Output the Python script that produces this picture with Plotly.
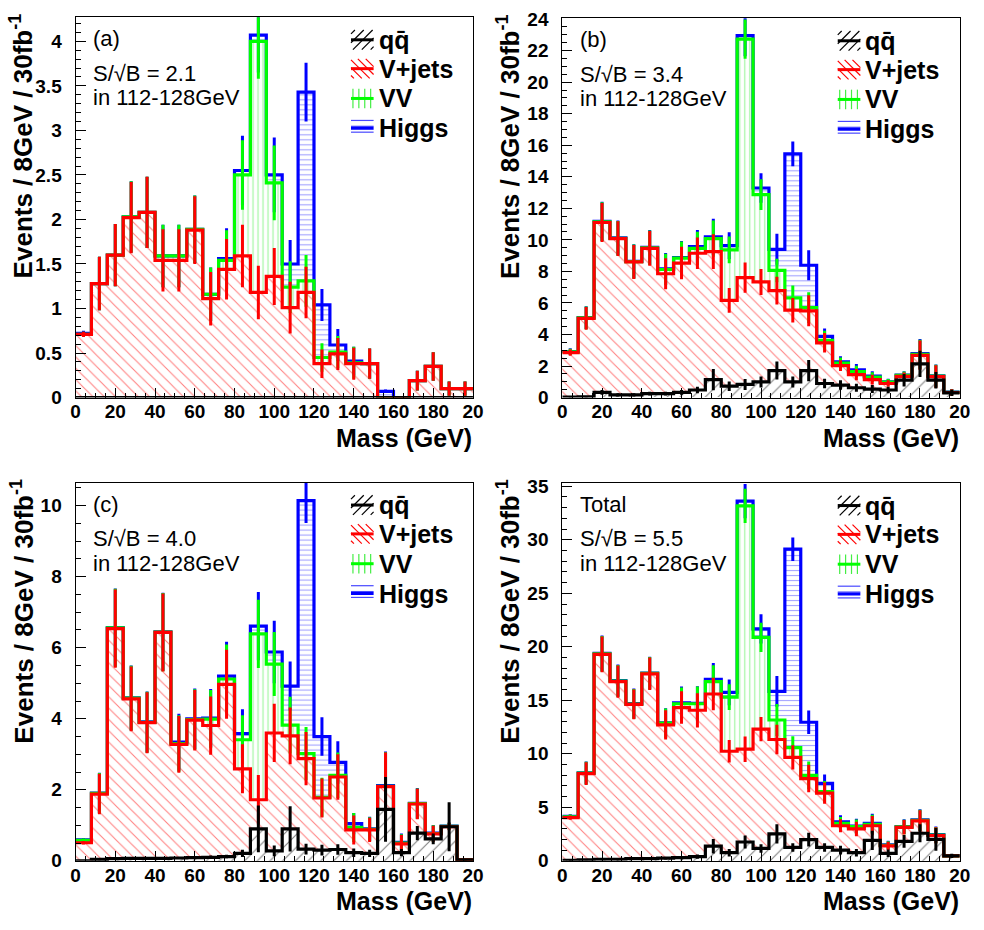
import plotly.graph_objects as go

W, H = 984, 930

# 8 GeV bins from 0 to 200 GeV
bin_edges = list(range(0, 201, 8))
bin_centers = [e + 4 for e in bin_edges[:-1]]
x_tick_vals = [0, 20, 40, 60, 80, 100, 120, 140, 160, 180, 200]
x_tick_text = ["0", "20", "40", "60", "80", "100", "120", "140", "160", "180", "20"]

# ---------------- panel (a) ----------------
qq_a = [0.00, 0.00, 0.00, 0.00, 0.00, 0.00, 0.00, 0.00, 0.00, 0.00, 0.00, 0.00, 0.00,
        0.00, 0.00, 0.00, 0.00, 0.00, 0.00, 0.00, 0.00, 0.00, 0.00, 0.00, 0.00]
vjets_a = [0.71, 1.28, 1.60, 2.02, 2.08, 1.54, 1.54, 1.88, 1.11, 1.44, 1.59, 1.18, 1.36,
           1.01, 1.18, 0.38, 0.49, 0.38, 0.38, 0.00, 0.00, 0.19, 0.35, 0.10, 0.10]
vv_a = [0.00, 0.00, 0.00, 0.01, 0.00, 0.05, 0.05, 0.01, 0.05, 0.10, 0.91, 2.82, 1.05,
        0.23, 0.13, 0.07, 0.02, 0.01, 0.00, 0.00, 0.00, 0.00, 0.00, 0.00, 0.00]
higgs_a = [0.01, 0.00, 0.00, 0.00, 0.00, 0.00, 0.00, 0.00, 0.00, 0.02, 0.05, 0.07, 0.09,
           0.26, 2.12, 0.59, 0.08, 0.02, 0.00, 0.07, 0.00, 0.00, 0.00, 0.00, 0.00]
err_qq_a = [0.00, 0.00, 0.00, 0.00, 0.00, 0.00, 0.00, 0.00, 0.00, 0.00, 0.00, 0.00, 0.00,
            0.00, 0.00, 0.00, 0.00, 0.00, 0.00, 0.00, 0.00, 0.00, 0.00, 0.00, 0.00]
err_vjets_a = [0.03, 0.30, 0.35, 0.40, 0.40, 0.35, 0.35, 0.38, 0.30, 0.34, 0.35, 0.30, 0.32,
               0.29, 0.29, 0.16, 0.18, 0.18, 0.17, 0.00, 0.00, 0.11, 0.16, 0.08, 0.08]
err_vv_a = [0.03, 0.30, 0.35, 0.40, 0.40, 0.35, 0.35, 0.38, 0.30, 0.34, 0.39, 0.42, 0.42,
            0.29, 0.29, 0.16, 0.18, 0.18, 0.17, 0.00, 0.00, 0.11, 0.16, 0.08, 0.08]
err_higgs_a = [0.03, 0.30, 0.35, 0.40, 0.40, 0.35, 0.35, 0.38, 0.30, 0.34, 0.39, 0.42, 0.42,
               0.27, 0.33, 0.18, 0.18, 0.16, 0.17, 0.02, 0.00, 0.11, 0.16, 0.08, 0.08]

# ---------------- panel (b) ----------------
qq_b = [0.03, 0.05, 0.33, 0.17, 0.17, 0.25, 0.25, 0.33, 0.48, 1.14, 0.72, 0.83, 0.99,
        1.71, 0.99, 1.71, 0.89, 0.79, 0.62, 0.54, 0.48, 1.10, 2.13, 1.10, 0.30]
vjets_b = [2.82, 4.97, 10.77, 9.91, 8.43, 9.21, 7.60, 8.20, 8.67, 8.12, 5.44, 6.77, 6.34,
           5.07, 4.55, 3.79, 2.58, 1.23, 0.83, 0.60, 0.41, 0.24, 0.55, 0.23, 0.02]
vv_b = [0.05, 0.03, 0.05, 0.02, 0.02, 0.04, 0.27, 0.31, 0.31, 0.82, 3.20, 15.13, 5.54,
        1.28, 0.78, 0.20, 0.15, 0.17, 0.20, 0.16, 0.09, 0.06, 0.06, 0.03, 0.01]
higgs_b = [0.02, 0.02, 0.02, 0.02, 0.02, 0.02, 0.04, 0.04, 0.11, 0.11, 0.27, 0.22, 0.42,
           1.34, 9.13, 2.69, 0.26, 0.08, 0.11, 0.06, 0.02, 0.02, 0.04, 0.02, 0.01]
err_qq_b = [0.03, 0.05, 0.15, 0.10, 0.10, 0.12, 0.12, 0.15, 0.20, 0.67, 0.30, 0.35, 0.35,
            0.57, 0.35, 0.67, 0.30, 0.30, 0.25, 0.25, 0.20, 0.40, 0.83, 0.52, 0.20]
err_vjets_b = [0.20, 0.72, 1.24, 1.10, 1.08, 1.10, 0.98, 1.03, 1.00, 1.10, 0.78, 0.96, 0.83,
               0.88, 0.78, 0.98, 0.62, 0.34, 0.36, 0.31, 0.20, 0.25, 0.93, 0.72, 0.20]
err_vv_b = [0.20, 0.72, 1.24, 1.10, 1.08, 1.10, 1.00, 1.05, 1.05, 1.15, 0.85, 1.24, 0.98,
            0.75, 0.78, 0.98, 0.62, 0.35, 0.36, 0.31, 0.20, 0.25, 0.93, 0.72, 0.20]
err_higgs_b = [0.20, 0.72, 1.24, 1.10, 1.08, 1.10, 1.00, 1.05, 1.05, 1.15, 0.85, 1.30, 0.93,
               0.98, 0.78, 0.95, 0.50, 0.35, 0.36, 0.31, 0.20, 0.25, 0.93, 0.72, 0.20]

# ---------------- panel (c) ----------------
qq_c = [0.00, 0.04, 0.06, 0.07, 0.07, 0.07, 0.08, 0.09, 0.10, 0.12, 0.21, 0.90, 0.28,
        0.90, 0.33, 0.30, 0.32, 0.23, 0.21, 1.45, 0.23, 0.78, 0.62, 0.96, 0.03]
vjets_c = [0.51, 1.84, 6.48, 4.49, 3.82, 6.36, 3.20, 3.87, 3.71, 4.85, 2.38, 0.82, 3.32,
           2.62, 2.55, 1.47, 2.04, 0.64, 0.66, 0.64, 0.25, 0.82, 0.14, 0.00, 0.00]
vv_c = [0.07, 0.02, 0.02, 0.02, 0.01, 0.01, 0.02, 0.02, 0.18, 0.15, 0.82, 4.67, 1.94,
        0.30, 0.14, 0.02, 0.05, 0.07, 0.02, 0.01, 0.02, 0.01, 0.01, 0.01, 0.00]
higgs_c = [0.01, 0.01, 0.01, 0.01, 0.01, 0.01, 0.04, 0.02, 0.03, 0.08, 0.17, 0.22, 0.34,
           1.10, 7.12, 1.71, 0.36, 0.11, 0.01, 0.02, 0.02, 0.01, 0.01, 0.01, 0.00]
err_qq_c = [0.00, 0.02, 0.03, 0.03, 0.03, 0.03, 0.03, 0.04, 0.05, 0.05, 0.10, 0.66, 0.15,
            0.64, 0.15, 0.15, 0.15, 0.12, 0.10, 0.91, 0.10, 0.20, 0.15, 0.69, 0.02]
err_vjets_c = [0.05, 0.57, 1.10, 0.91, 0.86, 1.10, 0.80, 0.85, 0.82, 0.97, 0.69, 0.70, 0.82,
               0.80, 0.75, 0.55, 0.64, 0.41, 0.34, 0.96, 0.25, 0.43, 0.23, 0.10, 0.00]
err_vv_c = [0.05, 0.57, 1.10, 0.91, 0.86, 1.10, 0.80, 0.85, 0.82, 0.97, 0.69, 0.96, 0.90,
            0.80, 0.75, 0.55, 0.64, 0.41, 0.34, 0.96, 0.25, 0.43, 0.23, 0.10, 0.00]
err_higgs_c = [0.05, 0.57, 1.10, 0.91, 0.86, 1.10, 0.80, 0.85, 0.82, 0.97, 0.69, 0.96, 0.88,
               0.69, 0.63, 0.54, 0.60, 0.30, 0.34, 0.96, 0.25, 0.43, 0.23, 0.10, 0.00]

# ---------------- total ----------------
qq_d = [0.05, 0.10, 0.15, 0.15, 0.20, 0.20, 0.25, 0.30, 0.40, 1.37, 0.76, 1.76, 1.16,
        2.52, 1.25, 1.98, 1.25, 1.00, 0.76, 1.91, 0.70, 1.82, 2.58, 2.00, 0.46]
vjets_d = [3.99, 8.05, 19.15, 16.60, 14.42, 17.28, 12.45, 14.02, 13.67, 14.22, 9.48, 8.67, 11.15,
           8.82, 8.42, 5.71, 5.07, 2.28, 2.22, 1.37, 0.70, 1.31, 1.16, 0.37, 0.00]
vv_d = [0.08, 0.05, 0.05, 0.05, 0.03, 0.04, 0.16, 0.36, 0.61, 1.16, 5.05, 22.73, 8.57,
        1.82, 0.91, 0.30, 0.15, 0.22, 0.21, 0.12, 0.05, 0.04, 0.04, 0.03, 0.01]
higgs_d = [0.03, 0.02, 0.03, 0.05, 0.05, 0.03, 0.04, 0.09, 0.04, 0.21, 0.45, 0.46, 0.79,
           2.68, 18.54, 4.96, 0.76, 0.15, 0.06, 0.10, 0.05, 0.03, 0.04, 0.05, 0.01]
err_qq_d = [0.03, 0.05, 0.10, 0.10, 0.10, 0.10, 0.12, 0.15, 0.20, 0.68, 0.35, 0.60, 0.40,
            0.90, 0.40, 0.64, 0.40, 0.40, 0.35, 0.90, 0.35, 0.60, 0.84, 1.06, 0.20]
err_vjets_d = [0.20, 1.06, 1.67, 1.50, 1.40, 1.52, 1.37, 1.52, 1.60, 1.52, 1.06, 1.20, 1.14,
               1.37, 1.14, 1.29, 0.99, 0.60, 0.68, 0.90, 0.38, 0.68, 0.99, 0.76, 0.10]
err_vv_d = [0.20, 1.06, 1.67, 1.50, 1.40, 1.52, 1.37, 1.52, 1.60, 1.52, 1.20, 1.60, 1.37,
            1.50, 1.06, 1.29, 0.99, 0.60, 0.68, 0.90, 0.38, 0.68, 0.99, 0.76, 0.10]
err_higgs_d = [0.20, 1.06, 1.67, 1.50, 1.40, 1.52, 1.37, 1.52, 1.60, 1.52, 1.20, 1.60, 1.37,
               1.44, 1.10, 1.10, 0.84, 0.60, 0.68, 0.90, 0.38, 0.68, 0.99, 0.76, 0.10]

panel_labels = ["(a)", "(b)", "(c)", "Total"]
significance = ["2.1", "3.4", "4.0", "5.5"]
y_max = [4.27, 24.05, 10.65, 35.3]
y_major = [0.5, 2, 2, 5]
y_minor = [0.1, 0.5, 0.5, 1]

process_names = ["qq\u0304", "V+jets", "VV", "Higgs"]
line_colors = ["#000000", "#ff0000", "#00ff00", "#0000ff"]
hatch_colors = ["#000000", "#ff0000", "#44ee44", "#4848ff"]
hatch_shapes = ["/", "\\", "|", "-"]
hatch_sizes = [9, 8, 5, 5]
hatch_solidity = [0.12, 0.13, 0.24, 0.22]

panels = [
    dict(parts=[qq_a, vjets_a, vv_a, higgs_a], errs=[err_qq_a, err_vjets_a, err_vv_a, err_higgs_a]),
    dict(parts=[qq_b, vjets_b, vv_b, higgs_b], errs=[err_qq_b, err_vjets_b, err_vv_b, err_higgs_b]),
    dict(parts=[qq_c, vjets_c, vv_c, higgs_c], errs=[err_qq_c, err_vjets_c, err_vv_c, err_higgs_c]),
    dict(parts=[qq_d, vjets_d, vv_d, higgs_d], errs=[err_qq_d, err_vjets_d, err_vv_d, err_higgs_d]),
]

# plot frames in pixels: left, top, right, bottom
frames = [(71.7, 7.5, 475.7, 396.5), (566.5, 8.5, 970.5, 396.5),
          (71.7, 483.5, 475.7, 870.5), (566.5, 484.0, 970.5, 870.5)]

FONT = "Liberation Sans"


def px(x):
    return x / W


def py(y):
    return 1 - y / H


fig = go.Figure()
shapes = []
annotations = []

for i, (panel, frame) in enumerate(zip(panels, frames)):
    sid = "" if i == 0 else str(i + 1)
    xa, ya = "x" + sid, "y" + sid

    # cumulative stack levels
    cums = []
    running = [0.0] * len(bin_centers)
    for part in panel["parts"]:
        running = [r + v for r, v in zip(running, part)]
        cums.append(running)

    # hatched stack segments
    for k, part in enumerate(panel["parts"]):
        fig.add_trace(go.Bar(
            x=bin_centers, y=part, width=8, xaxis=xa, yaxis=ya,
            marker=dict(color="rgba(0,0,0,0)", line=dict(width=0),
                        pattern=dict(shape=hatch_shapes[k], fgcolor=hatch_colors[k],
                                     bgcolor="rgba(0,0,0,0)", size=hatch_sizes[k],
                                     solidity=hatch_solidity[k], fillmode="overlay")),
            showlegend=False, hoverinfo="skip"))

    # outlines and error bars, top of stack first
    for k in [3, 2, 1, 0]:
        fig.add_trace(go.Scatter(
            x=bin_edges, y=cums[k] + [cums[k][-1]], mode="lines", xaxis=xa, yaxis=ya,
            line=dict(shape="hv", color=line_colors[k], width=3.2),
            showlegend=False, hoverinfo="skip"))
        fig.add_trace(go.Scatter(
            x=bin_centers, y=cums[k], mode="markers", xaxis=xa, yaxis=ya,
            marker=dict(size=1, color="rgba(0,0,0,0)"),
            error_y=dict(type="data", array=panel["errs"][k], color=line_colors[k],
                         thickness=3, width=0),
            showlegend=False, hoverinfo="skip"))

    left, top, right, bottom = frame
    tickfont = dict(family=FONT, size=19, color="black", weight="bold")
    fig.layout["xaxis" + sid] = dict(
        domain=[px(left), px(right)], anchor=ya, range=[0, 200],
        tickvals=x_tick_vals, ticktext=x_tick_text, ticks="inside", ticklen=10,
        tickwidth=1, tickcolor="black", tickfont=tickfont, ticklabelstandoff=-3,
        minor=dict(dtick=5, tick0=0, ticks="inside", ticklen=5, tickcolor="black", tickwidth=1),
        showline=True, linecolor="black", linewidth=1, mirror=True,
        showgrid=False, zeroline=False, fixedrange=True)
    fig.layout["yaxis" + sid] = dict(
        domain=[py(bottom), py(top)], anchor=xa, range=[0, y_max[i]],
        dtick=y_major[i], tick0=0, ticks="inside", ticklen=10, tickwidth=1,
        tickcolor="black", tickfont=tickfont, ticklabelstandoff=9,
        minor=dict(dtick=y_minor[i], tick0=0, ticks="inside", ticklen=5,
                   tickcolor="black", tickwidth=1),
        showline=True, linecolor="black", linewidth=1, mirror=True,
        showgrid=False, zeroline=False, fixedrange=True)

    # axis titles
    annotations.append(dict(
        text="<b>Events / 8GeV / 30fb<sup>-1</sup></b>", textangle=-90,
        x=px(left - 54), y=py(top - 6), xref="paper", yref="paper",
        xanchor="center", yanchor="top", showarrow=False,
        font=dict(family=FONT, size=26, color="black")))
    annotations.append(dict(
        text="<b>Mass (GeV)</b>", x=px(right + 1), y=py(bottom + 41),
        xref="paper", yref="paper", xanchor="right", yanchor="middle",
        showarrow=False, font=dict(family=FONT, size=25, color="black")))

    # panel captions
    annotations.append(dict(
        text=panel_labels[i], x=px(left + 16), y=py(top + 22), xref="paper", yref="paper",
        xanchor="left", yanchor="middle", showarrow=False,
        font=dict(family=FONT, size=22, color="black")))
    annotations.append(dict(
        text="S/\u221aB = " + significance[i], x=px(left + 16), y=py(top + 57),
        xref="paper", yref="paper", xanchor="left", yanchor="middle", showarrow=False,
        font=dict(family=FONT, size=22, color="black")))
    annotations.append(dict(
        text="in 112-128GeV", x=px(left + 16), y=py(top + 82.5),
        xref="paper", yref="paper", xanchor="left", yanchor="middle", showarrow=False,
        font=dict(family=FONT, size=22, color="black")))

    # legend: hatched key box with line, then the process name
    key_left = right - 124
    key_w, key_h = 23, 20
    for k, row in enumerate([23, 52.5, 83, 113.5]):
        cy = top + row
        x0, x1 = key_left, key_left + key_w
        y0, y1 = cy - key_h / 2, cy + key_h / 2
        segs = []
        shape = hatch_shapes[k]
        if shape == "/":
            c = x0 + y0 + 4
            while c < x1 + y1:
                lo, hi = max(x0, c - y1), min(x1, c - y0)
                if hi > lo:
                    segs.append((lo, c - lo, hi, c - hi))
                c += 9
        elif shape == "\\":
            c = x0 - y1 + 3
            while c < x1 - y0:
                lo, hi = max(x0, c + y0), min(x1, c + y1)
                if hi > lo:
                    segs.append((lo, lo - c, hi, hi - c))
                c += 8
        elif shape == "|":
            xx = x0 + 2
            while xx < x1:
                segs.append((xx, y0, xx, y1))
                xx += 6
        else:
            yy = y0 + 2
            while yy < y1:
                segs.append((x0, yy, x1, yy))
                yy += 6
        for (ax, ay, bx, by) in segs:
            shapes.append(dict(type="line", xref="paper", yref="paper",
                               x0=px(ax), y0=py(ay), x1=px(bx), y1=py(by),
                               line=dict(color=hatch_colors[k], width=1.2)))
        shapes.append(dict(type="line", xref="paper", yref="paper",
                           x0=px(x0), y0=py(cy), x1=px(x1), y1=py(cy),
                           line=dict(color=line_colors[k], width=3)))
        annotations.append(dict(
            text="<b>" + process_names[k] + "</b>", x=px(x1 + 3), y=py(cy),
            xref="paper", yref="paper", xanchor="left", yanchor="middle",
            showarrow=False, font=dict(family=FONT, size=25, color="black")))

fig.update_layout(
    width=W, height=H, margin=dict(l=0, r=0, t=0, b=0),
    paper_bgcolor="white", plot_bgcolor="white",
    barmode="stack", bargap=0, showlegend=False,
    shapes=shapes, annotations=annotations,
    font=dict(family=FONT, color="black"))

fig.write_html("out.html", config=dict(displayModeBar=False))
